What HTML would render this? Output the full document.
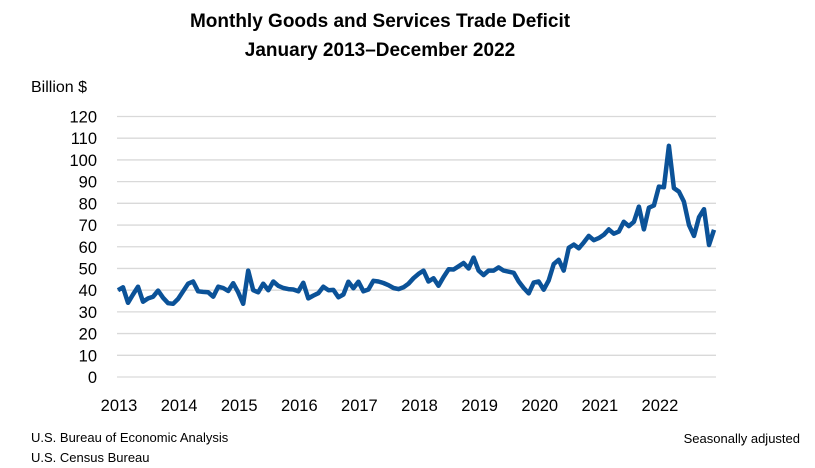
<!DOCTYPE html>
<html><head><meta charset="utf-8"><style>
body{margin:0;background:#fff;width:815px;height:463px;overflow:hidden;font-family:"Liberation Sans",Arial,sans-serif;}
</style></head><body>
<svg width="815" height="463" xmlns="http://www.w3.org/2000/svg">
<text x="380" y="27" text-anchor="middle" font-size="19" font-weight="bold" fill="#000">Monthly Goods and Services Trade Deficit</text>
<text x="380" y="56" text-anchor="middle" font-size="19" font-weight="bold" fill="#000">January 2013–December 2022</text>
<text x="31" y="92" font-size="16" fill="#000">Billion $</text>
<g id="grid"></g><g id="ylab"></g><g id="xlab"></g>
<path id="line" fill="none" stroke="#0b5298" stroke-width="4.5" stroke-linejoin="round"/>
<text x="31" y="442" font-size="13" fill="#000">U.S. Bureau of Economic Analysis</text>
<text x="31" y="462" font-size="13" fill="#000">U.S. Census Bureau</text>
<text x="800" y="443" text-anchor="end" font-size="13" fill="#000">Seasonally adjusted</text>
</svg>
<script>
const yTicks=[0,10,20,30,40,50,60,70,80,90,100,110,120];
const years=["2013","2014","2015","2016","2017","2018","2019","2020","2021","2022"];
const deficit=[40,41.3,34.2,38,41.6,34.7,36.2,37,39.8,36.5,34,33.7,
36,39.5,43,44,39.5,39.2,39,37,41.6,41,39.6,43.2,
39,33.7,49,40,39,43,40,44,42,41,40.5,40.3,
39.5,43.4,36.2,37.5,38.6,41.6,40,40.1,36.7,38,43.9,40.9,
43.9,39.5,40.3,44.3,44,43.3,42.3,41,40.5,41.3,43,45.5,
47.5,49,44,45.5,42,46,49.6,49.5,51,52.5,50,55,
49,47,49,49,50.5,49,48.5,48,44,41,38.5,43.5,
44,40.2,44.5,52,54,49,59.5,61,59.3,62,65,63,
64,65.5,68,66,67,71.5,69.5,71.5,78.5,68,78,79,
87.7,87.4,106.5,87,85.4,80.8,70,65,73.6,77.3,60.8,67.8];
const NS="http://www.w3.org/2000/svg";
const y0=377,y1=116.5,vMax=120;
function ys(v){return y0-(v/vMax)*(y0-y1);}
function xs(i){return 118+i*(596/119);}
const grid=document.getElementById('grid'),yl=document.getElementById('ylab'),xl=document.getElementById('xlab');
yTicks.forEach(t=>{
 const l=document.createElementNS(NS,'line');
 l.setAttribute('x1',117);l.setAttribute('x2',716);l.setAttribute('y1',ys(t));l.setAttribute('y2',ys(t));
 l.setAttribute('stroke','#d9d9d9');l.setAttribute('stroke-width','1.3');
 
 
 grid.appendChild(l);
 const tx=document.createElementNS(NS,'text');
 tx.setAttribute('x',97);tx.setAttribute('y',ys(t)+6);tx.setAttribute('text-anchor','end');tx.setAttribute('font-size','16.5');
 tx.textContent=t;
 
 
 yl.appendChild(tx);
});
years.forEach((y,k)=>{
 const tx=document.createElementNS(NS,'text');
 tx.setAttribute('x',xs(k*12)+1);tx.setAttribute('y',411);tx.setAttribute('text-anchor','middle');tx.setAttribute('font-size','16.5');
 tx.textContent=y;
 
 
 xl.appendChild(tx);
});
document.getElementById('line').setAttribute('d',deficit.map((v,i)=>(i?'L':'M')+xs(i).toFixed(1)+','+ys(v).toFixed(1)).join(''));
</script>
</body></html>
